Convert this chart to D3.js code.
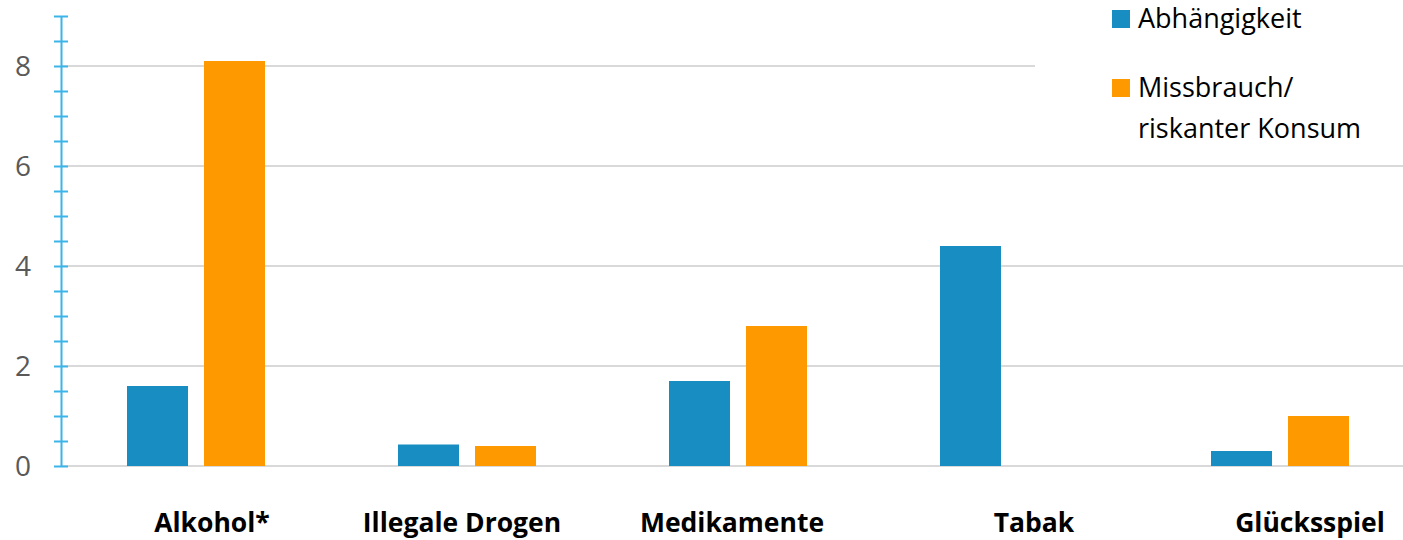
<!DOCTYPE html>
<html>
<head>
<meta charset="utf-8">
<script src="https://cdn.jsdelivr.net/npm/d3@7"></script>
<style>
  html, body { margin: 0; padding: 0; background: #ffffff; }
  svg { display: block; }
</style>
</head>
<body>
<svg id="chart" width="1403" height="540"></svg>
<script>
// Categories and series values
const categories = ["Alkohol*", "Illegale Drogen", "Medikamente", "Tabak", "Glücksspiel"];
const seriesNames = ["Abhängigkeit", "Missbrauch/ riskanter Konsum"];
const abhaengigkeit = [1.6, 0.43, 1.7, 4.4, 0.3];
const missbrauch = [8.1, 0.4, 2.8, null, 1.0];
const yTickLabels = [0, 2, 4, 6, 8];

const colors = ["#178dc1", "#ff9900"];
const seriesValues = [abhaengigkeit, missbrauch];

const svg = d3.select("#chart");
const W = 1403, H = 540;
svg.append("rect").attr("width", W).attr("height", H).attr("fill", "#ffffff");

const axisX = 61;
const y = d3.scaleLinear().domain([0, 9]).range([466, 16]);

// Group band scale: five groups, each holding two bars
const x0 = d3.scaleBand()
  .domain(categories)
  .range([60.5, 1415.5])
  .paddingInner(133 / 271)
  .paddingOuter(66.5 / 271);
const x1 = d3.scaleBand()
  .domain(seriesNames)
  .range([0, x0.bandwidth()])
  .paddingInner(16 / 77);

// Horizontal gridlines
svg.append("g").selectAll("line")
  .data(yTickLabels)
  .join("line")
  .attr("x1", axisX)
  .attr("x2", W)
  .attr("y1", d => y(d))
  .attr("y2", d => y(d))
  .attr("stroke", "#d9d9d9")
  .attr("stroke-width", 2);

// Bars
const rows = [];
categories.forEach((c, i) => {
  seriesNames.forEach((s, j) => {
    const v = seriesValues[j][i];
    if (v !== null) rows.push({ c, s, v, color: colors[j] });
  });
});
svg.append("g").selectAll("rect")
  .data(rows)
  .join("rect")
  .attr("x", d => x0(d.c) + x1(d.s))
  .attr("width", x1.bandwidth())
  .attr("y", d => y(d.v))
  .attr("height", d => y(0) - y(d.v))
  .attr("fill", d => d.color);

// Vertical axis with major and minor ticks
const yAxis = d3.axisLeft(y)
  .tickValues(d3.range(0, 9.01, 0.5))
  .tickSizeInner(7)
  .tickSizeOuter(0)
  .tickFormat("");
const gy = svg.append("g")
  .attr("transform", `translate(${axisX},0)`)
  .call(yAxis);
gy.select(".domain").attr("stroke", "#3cb4e8").attr("stroke-width", 2);
gy.selectAll(".tick line")
  .attr("x1", -7).attr("x2", 7)
  .attr("stroke", "#3cb4e8").attr("stroke-width", 2);

// Tick labels
svg.append("g").selectAll("text")
  .data(yTickLabels)
  .join("text")
  .attr("x", 31)
  .attr("y", d => y(d) + 10)
  .attr("text-anchor", "end")
  .attr("font-family", "'Open Sans', sans-serif")
  .attr("font-size", 28)
  .attr("fill", "#595959")
  .text(d => d);

// Category labels
const labelShift = [16, -5, -6, 25, 30];
svg.append("g").selectAll("text")
  .data(categories)
  .join("text")
  .attr("x", (d, i) => x0(d) + x0.bandwidth() / 2 + labelShift[i])
  .attr("y", 532)
  .attr("text-anchor", "middle")
  .attr("font-family", "'Open Sans', sans-serif")
  .attr("font-weight", "bold")
  .attr("font-size", 26.5)
  .attr("fill", "#000000")
  .text(d => d);

// Legend panel
const legend = svg.append("g");
legend.append("rect")
  .attr("x", 1035).attr("y", 0)
  .attr("width", W - 1035).attr("height", 150)
  .attr("fill", "#ffffff");
const legendItems = [
  { lines: ["Abhängigkeit"], color: colors[0], top: 10 },
  { lines: ["Missbrauch/", "riskanter Konsum"], color: colors[1], top: 79 }
];
legendItems.forEach(item => {
  legend.append("rect")
    .attr("x", 1112).attr("y", item.top)
    .attr("width", 18).attr("height", 18)
    .attr("fill", item.color);
  item.lines.forEach((line, k) => {
    legend.append("text")
      .attr("x", 1138)
      .attr("y", item.top + 18 + k * 41)
      .attr("font-family", "'Open Sans', sans-serif")
      .attr("font-size", 27)
      .attr("fill", "#000000")
      .text(line);
  });
});
</script>
</body>
</html>
